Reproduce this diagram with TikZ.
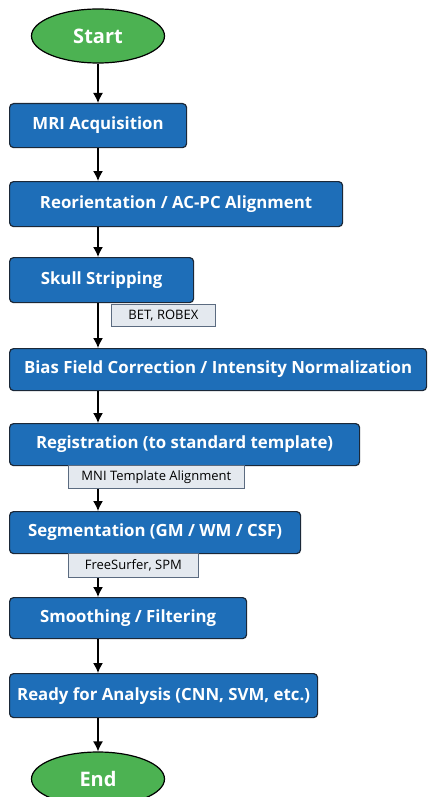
\documentclass[tikz,border=0pt]{standalone}
\usepackage{fontspec}
\setmainfont{Open Sans}
\usetikzlibrary{arrows.meta}
\usetikzlibrary{shapes.geometric}
\definecolor{stepblue}{RGB}{30, 110, 184}
\definecolor{stepedge}{RGB}{27, 40, 56}
\definecolor{termgreen}{RGB}{76, 178, 82}
\definecolor{notefill}{RGB}{228, 233, 239}
\definecolor{noteedge}{RGB}{91, 107, 128}

\begin{document}
\begin{tikzpicture}[x=1pt, y=-1pt,
    stepbox/.style={draw=stepedge, line width=1.2pt, fill=stepblue, rounded corners=4pt,
      anchor=north west, inner sep=0pt, text=white,
      font=\fontsize{16.8}{19}\selectfont\bfseries},
    term/.style={ellipse, draw=black, line width=1.2pt, fill=termgreen, inner sep=0pt,
      minimum width=133pt, minimum height=54pt, text=white,
      font=\fontsize{20}{23}\selectfont\bfseries},
    note/.style={draw=noteedge, line width=0.8pt, fill=notefill, anchor=north west,
      inner sep=0pt, font=\fontsize{13}{15}\selectfont},
    arr/.style={line width=1.4pt, -{Latex[length=10pt, width=10pt]}}]

  \useasboundingbox (0,0) rectangle (428,797);

  \node[term] (start) at (98,36) {Start};
  \node[stepbox, minimum width=177pt, minimum height=44pt] (mri) at (9,103) {MRI Acquisition};
  \node[stepbox, minimum width=333pt, minimum height=45pt] (reor) at (9,181) {Reorientation / AC-PC Alignment};
  \node[stepbox, minimum width=184pt, minimum height=45pt] (skull) at (9,257) {Skull Stripping};
  \node[note, minimum width=104pt, minimum height=22pt] (bet) at (111,304) {BET, ROBEX};
  \node[stepbox, minimum width=417pt, minimum height=42pt] (bias) at (9,348) {Bias Field Correction / Intensity Normalization};
  \node[stepbox, minimum width=350pt, minimum height=42pt] (reg) at (9,423) {Registration (to standard template)};
  \node[note, minimum width=176pt, minimum height=23pt] (mni) at (68,465) {MNI Template Alignment};
  \node[stepbox, minimum width=291pt, minimum height=42pt] (seg) at (9,511) {Segmentation (GM / WM / CSF)};
  \node[note, minimum width=130pt, minimum height=24pt] (fs) at (68,553) {FreeSurfer, SPM};
  \node[stepbox, minimum width=237pt, minimum height=41pt] (smooth) at (9,597) {Smoothing / Filtering};
  \node[stepbox, minimum width=308pt, minimum height=44pt] (ready) at (9,673) {Ready for Analysis (CNN, SVM, etc.)};
  \node[term] (end) at (98,779) {End};

  % arrows, all on the axis of the start node
  \foreach \a/\b in {start/mri, mri/reor, reor/skull, skull/bias, bias/reg, mni/seg, fs/smooth, smooth/ready, ready/end}
    \draw[arr] (\a.south -| start) -- (\b.north -| start);

\end{tikzpicture}
\end{document}
